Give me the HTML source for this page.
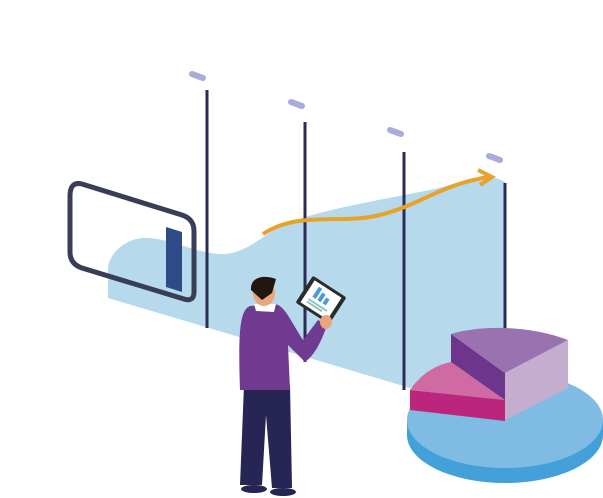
<!DOCTYPE html><html><head><style>body{margin:0;background:#fff}svg{display:block}</style></head><body>
<svg width="603" height="498" viewBox="0 0 603 498" xmlns="http://www.w3.org/2000/svg">
<path d="M108,298 L108,268 C110,250 130,236 150,238 C175,240 200,255 225,254 C250,252 265,232 290,222 C330,208 380,200 430,190 C460,184 485,170 505,182 L505,345 L410,388 Z" fill="#b6d9ec"/>
<g stroke="#2b2c55" stroke-width="3">
<line x1="207" y1="90" x2="207" y2="328"/><line x1="305" y1="122" x2="305" y2="362"/><line x1="404" y1="152" x2="404" y2="390"/><line x1="505" y1="183" x2="505" y2="340"/></g>
<g stroke="#a8acd8" stroke-width="6" stroke-linecap="round">
<line x1="192" y1="74" x2="203" y2="78"/><line x1="291" y1="102" x2="302" y2="106"/><line x1="390" y1="130" x2="401" y2="134"/><line x1="489" y1="156" x2="500" y2="160"/></g>
<path d="M263,234 C300,210 340,225 380,215 C420,205 440,185 488,177" fill="none" stroke="#e8a22c" stroke-width="4"/>
<path d="M478,170 L492,177 L480,185" fill="none" stroke="#e8a22c" stroke-width="4"/>
<path d="M166,227 L182,232 L182,292 L166,287 Z" fill="#2e4a87"/>
<path d="M82,184 L182,215 Q194,219 194,231 L194,292 Q194,302 184,299 L82,268 Q70,264 70,252 L70,196 Q70,181 82,184 Z" fill="none" stroke="#393d56" stroke-width="5"/>
<ellipse cx="505" cy="435" rx="98" ry="48" fill="#44a0d8"/>
<rect x="407" y="420" width="196" height="15" fill="#44a0d8"/>
<ellipse cx="505" cy="420" rx="98" ry="48" fill="#7fbbe3"/>
<path d="M410,390 L410,410 L505,421 L505,400 Z" fill="#bb267c"/>
<path d="M410,390 C420,375 435,365 451,362 L505,400 Z" fill="#cf6aa2"/>
<path d="M451,334 L451,362 L505,400 L505,373 Z" fill="#6d368c"/>
<path d="M505,373 L568,340 L568,388 L505,420 Z" fill="#c5add0"/>
<path d="M451,334 C480,325 530,325 568,340 L505,373 Z" fill="#9b72b0"/>
<!-- man -->
<path d="M244,385 L240,485 L262,485 L266,415 L272,488 L292,488 L290,385 Z" fill="#262553"/>
<ellipse cx="254" cy="489" rx="13" ry="4" fill="#262553"/><ellipse cx="283" cy="492" rx="13" ry="4" fill="#262553"/>
<path d="M250,306 C240,310 238,330 240,390 L290,390 L288,345 L305,362 C315,355 322,340 327,325 L318,320 L303,340 C290,320 285,306 275,304 Z" fill="#6f3a90"/>
<path d="M254,304 L276,304 L274,312 L256,311 Z" fill="#fff"/>
<ellipse cx="264" cy="293" rx="11" ry="13" fill="#e9a57f"/>
<path d="M251,290 C250,278 262,274 276,279 L272,293 L262,300 Z" fill="#22170f"/>
<g transform="rotate(33 321 300)"><rect x="301" y="284" width="40" height="32" rx="2" fill="#2c2c2c"/><rect x="305" y="287" width="32" height="26" fill="#fff"/>
<rect x="312" y="290" width="4" height="12" fill="#4a9bd6"/><rect x="318" y="293" width="4" height="9" fill="#4a9bd6"/><rect x="324" y="295" width="4" height="7" fill="#4a9bd6"/>
<rect x="310" y="305" width="22" height="2" fill="#8cc6c2"/><rect x="310" y="308" width="18" height="2" fill="#8cc6c2"/></g>
<ellipse cx="326" cy="322" rx="6" ry="7" fill="#e9a57f"/>
</svg></body></html>
